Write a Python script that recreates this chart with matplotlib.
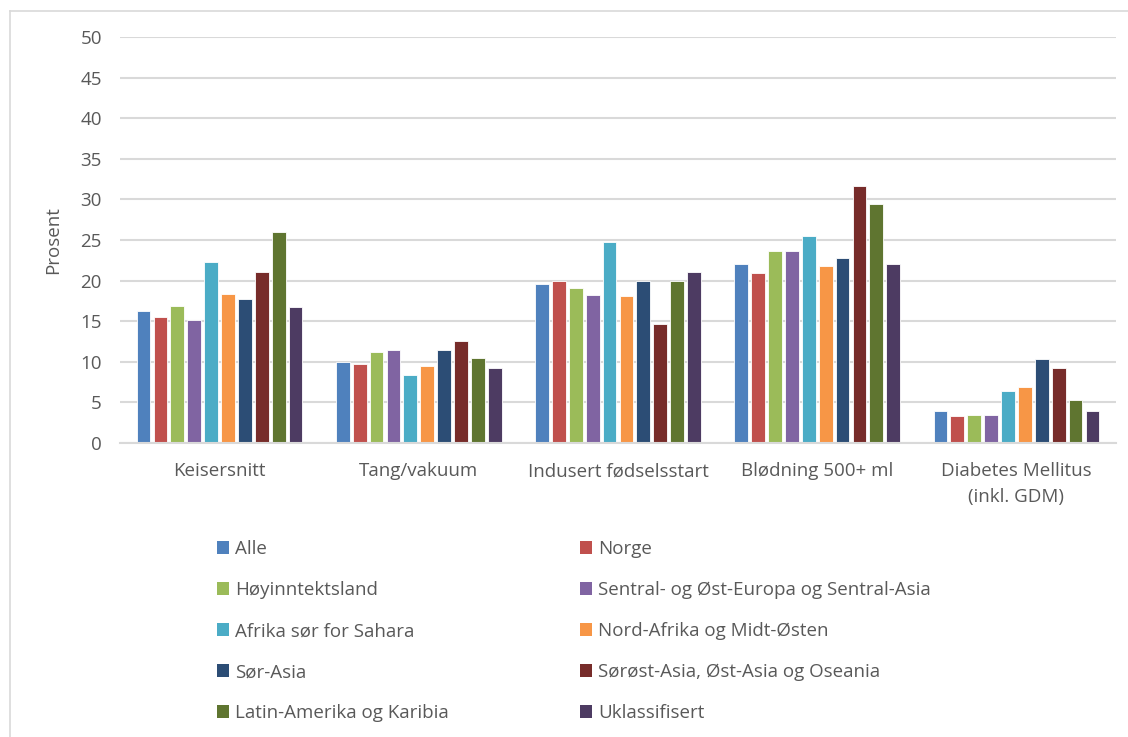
import matplotlib
matplotlib.use("Agg")
import matplotlib.pyplot as plt
import numpy as np
from matplotlib.patches import Patch
from matplotlib.lines import Line2D

plt.rcParams['font.family'] = ['Open Sans', 'DejaVu Sans']

categories = ["Keisersnitt", "Tang/vakuum", "Indusert fødselsstart",
              "Blødning 500+ ml", "Diabetes Mellitus\n(inkl. GDM)"]

groups = ["Alle", "Norge", "Høyinntektsland",
          "Sentral- og Øst-Europa og Sentral-Asia",
          "Afrika sør for Sahara", "Nord-Afrika og Midt-Østen",
          "Sør-Asia", "Sørøst-Asia, Øst-Asia og Oseania",
          "Latin-Amerika og Karibia", "Uklassifisert"]

alle = [16.2, 10.0, 19.6, 22.0, 3.9]
norge = [15.5, 9.7, 20.0, 20.9, 3.3]
hoyinntekt = [16.9, 11.2, 19.1, 23.7, 3.45]
sentral_ost = [15.2, 11.5, 18.2, 23.6, 3.45]
afrika_sor = [22.3, 8.4, 24.7, 25.5, 6.4]
nord_afrika = [18.4, 9.5, 18.1, 21.8, 6.9]
sor_asia = [17.7, 11.4, 20.0, 22.8, 10.4]
sorost_asia = [21.1, 12.6, 14.6, 31.7, 9.2]
latin_amerika = [26.0, 10.5, 20.0, 29.4, 5.35]
uklassifisert = [16.7, 9.2, 21.1, 22.0, 3.9]

series = [alle, norge, hoyinntekt, sentral_ost, afrika_sor, nord_afrika,
          sor_asia, sorost_asia, latin_amerika, uklassifisert]

colors = ["#4F81BD", "#C0504D", "#9BBB59", "#8064A2", "#4BACC6",
          "#F79646", "#2C4D75", "#772C2A", "#5F7530", "#4D3B62"]

yticks = [0, 5, 10, 15, 20, 25, 30, 35, 40, 45, 50]

W, H = 1128, 737
text_color = "#595959"
grid_color = "#d9d9d9"

fig = plt.figure(figsize=(W / 100, H / 100), dpi=100)
ax = fig.add_axes([120 / W, (H - 443) / H, (1116 - 120) / W, (443 - 37) / H])

x = np.arange(len(categories))
slot = 0.0848
bar_w = 0.069
n = len(series)
for i, (vals, col, name) in enumerate(zip(series, colors, groups)):
    offs = (i - (n - 1) / 2) * slot
    ax.bar(x + offs, vals, width=bar_w, color=col, edgecolor="white",
           linewidth=0.6, label=name, zorder=3)

ax.set_xlim(-0.5, len(categories) - 0.5)
ax.set_ylim(0, 50)
ax.set_yticks(yticks)
ax.set_xticks(x)
ax.set_xticklabels(categories, fontsize=13.5, color=text_color, linespacing=1.55)
ax.tick_params(axis='y', length=0, pad=13, labelsize=13.5, labelcolor=text_color)
ax.tick_params(axis='x', length=0, pad=14)
ax.grid(axis='y', color=grid_color, linewidth=1.5, zorder=0)
for s in ["top", "right", "left"]:
    ax.spines[s].set_visible(False)
ax.spines["bottom"].set_color(grid_color)
ax.spines["bottom"].set_linewidth(1.5)
ax.spines["bottom"].set_zorder(4)
ax.set_ylabel("Prosent", fontsize=13.5, color=text_color, labelpad=13)

handles = [Patch(facecolor=c, edgecolor='none') for c in colors]
left_idx = [0, 2, 4, 6, 8]
right_idx = [1, 3, 5, 7, 9]
for idx, xpos in ((left_idx, 217), (right_idx, 580)):
    fig.legend([handles[k] for k in idx], [groups[k] for k in idx],
               loc='upper left', bbox_to_anchor=(xpos / W, 1 - 540 / H),
               frameon=False, fontsize=13.5, labelcolor=text_color,
               handlelength=0.65, handleheight=0.65, handletextpad=0.3,
               labelspacing=1.23, borderpad=0, borderaxespad=0)

# light frame around the chart area
fig.add_artist(Line2D([10 / W, 10 / W], [0, 1 - 11 / H], transform=fig.transFigure,
                      color=grid_color, linewidth=1.2))
fig.add_artist(Line2D([10 / W, 1], [1 - 11 / H, 1 - 11 / H], transform=fig.transFigure,
                      color=grid_color, linewidth=1.2))

fig.savefig("out.png", dpi=100)
